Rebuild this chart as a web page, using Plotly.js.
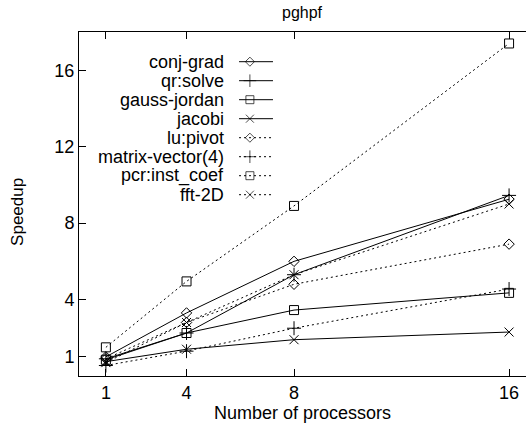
<!DOCTYPE html>
<html><head><meta charset="utf-8">
<script src="https://cdn.plot.ly/plotly-3.0.1.min.js"></script>
<style>html,body{margin:0;padding:0;background:#fff}#c{width:526px;height:426px}</style>
</head><body><div id="c"></div>
<script>
const processors = [1, 4, 8, 16];
const seriesNames = ["conj-grad","qr:solve","gauss-jordan","jacobi","lu:pivot","matrix-vector(4)","pcr:inst_coef","fft-2D"];
const conjGrad = [1.0, 3.3, 6.0, 9.25];
const qrSolve = [0.9, 2.25, 5.3, 9.45];
const gaussJordan = [0.85, 2.25, 3.45, 4.35];
const jacobi = [0.75, 1.4, 1.9, 2.3];
const luPivot = [0.9, 2.8, 4.8, 6.9];
const matrixVector = [0.55, 1.3, 2.5, 4.55];
const pcrInstCoef = [1.5, 4.95, 8.9, 17.4];
const fft2D = [0.7, 2.8, 5.3, 9.0];
const xTicks = [1, 4, 8, 16];
const yTicks = [1, 4, 8, 12, 16];

const allSeries = [conjGrad, qrSolve, gaussJordan, jacobi, luPivot, matrixVector, pcrInstCoef, fft2D];
const symbols = ["diamond-open","cross-thin-open","square-open","x-thin-open","diamond-open","cross-thin-open","square-open","x-thin-open"];
const sizes = [8, 10, 9, 9, 8, 10, 9, 9];
const dashes = ["solid","solid","solid","solid","2px,3px","2px,3px","2px,3px","2px,3px"];
const FAM = "Liberation Sans, Arial, sans-serif";
const font = {family: FAM, size: 18, color: "#000"};

const traces = [];
allSeries.forEach((ys, i) => {
  traces.push({
    x: processors, y: ys, type: "scatter", mode: "lines+markers", name: seriesNames[i],
    showlegend: false, cliponaxis: false,
    line: {color: "#000", width: 1, dash: dashes[i]},
    marker: {symbol: symbols[i], size: sizes[i], color: "#000", line: {color: "#000", width: 1}}
  });
});
// gnuplot-like key: text right-aligned, sample to the right
const keyTop = 0.9413, keyBottom = 0.4994;
const annotations = [];
seriesNames.forEach((n, i) => {
  traces.push({
    x: [0, 0.32, 1], y: [i, i, i], xaxis: "x2", yaxis: "y2", type: "scatter", mode: "lines+markers",
    showlegend: false, hoverinfo: "skip", cliponaxis: false,
    line: {color: "#000", width: 1, dash: dashes[i]},
    marker: {symbol: symbols[i], size: [0, sizes[i] - 1, 0], color: "#000", line: {color: "#000", width: 1}}
  });
  const yp = keyTop - (keyTop - keyBottom) * (i + 0.5) / 8;
  annotations.push({
    xref: "paper", yref: "paper", x: 0.3289, y: yp, text: n, showarrow: false,
    xanchor: "right", yanchor: "middle", font: font
  });
});
annotations.push({
  xref: "paper", yref: "paper", x: 0.5, y: 1, yshift: 9, text: "pghpf", showarrow: false,
  xanchor: "center", yanchor: "bottom", font: {family: FAM, size: 16, color: "#000"}
});
annotations.push({
  xref: "paper", yref: "paper", x: -0.1365, y: 0.477, text: "Speedup", showarrow: false, textangle: -90,
  xanchor: "center", yanchor: "middle", font: {family: FAM, size: 17, color: "#000"}
});

const layout = {
  width: 526, height: 426,
  margin: {l: 79, r: 0, t: 32, b: 50},
  paper_bgcolor: "#fff", plot_bgcolor: "#fff",
  font: font, showlegend: false,
  xaxis: {
    range: [0, 16.63], tickvals: xTicks, ticktext: xTicks.map(String),
    ticks: "inside", ticklen: 7, tickwidth: 1, tickcolor: "#000",
    showline: true, linecolor: "#000", linewidth: 1, mirror: "ticks",
    showgrid: false, zeroline: false,
    title: {text: "Number of processors", font: font, standoff: 0},
    tickfont: font
  },
  yaxis: {
    range: [0, 18], tickvals: yTicks, ticktext: yTicks.map(String),
    ticks: "inside", ticklen: 7, tickwidth: 1, tickcolor: "#000",
    showline: true, linecolor: "#000", linewidth: 1, mirror: false,
    showgrid: false, zeroline: false,
    tickfont: font
  },
  xaxis2: {domain: [0.358, 0.434], range: [0, 1], visible: false, fixedrange: true, anchor: "y2"},
  yaxis2: {domain: [keyBottom, keyTop], range: [7.5, -0.5], visible: false, fixedrange: true, anchor: "x2"},
  annotations: annotations
};
Plotly.newPlot("c", traces, layout, {staticPlot: true, displayModeBar: false});
</script>
</body></html>
